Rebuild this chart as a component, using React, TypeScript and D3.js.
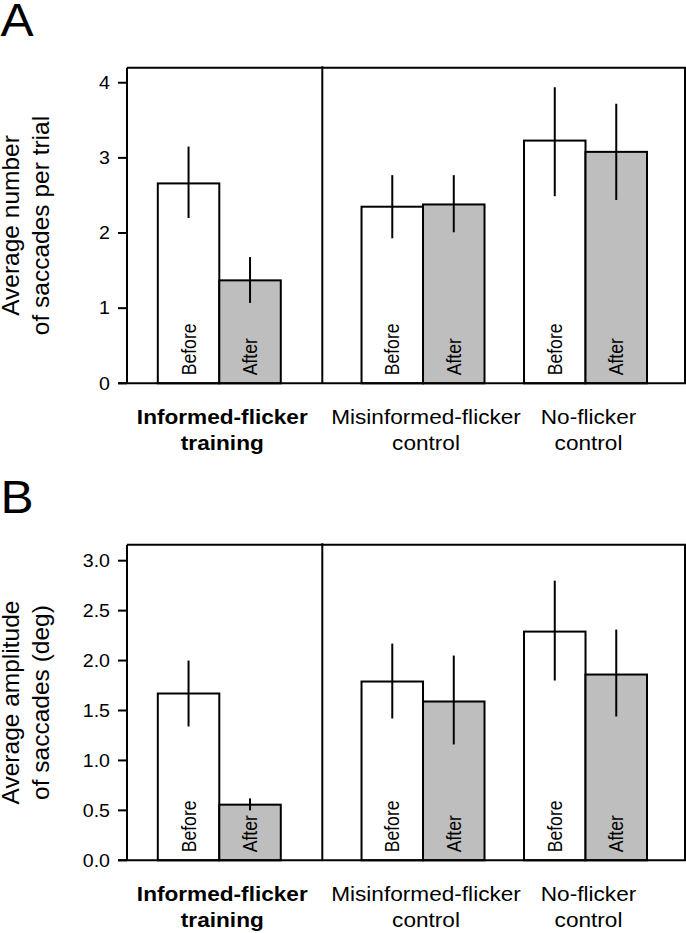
import React from "react";
import * as d3 from "d3";

// ---- data ----
const groupLines: string[][] = [
  ["Informed-flicker", "training"],
  ["Misinformed-flicker", "control"],
  ["No-flicker", "control"],
];
const groupBold = [true, false, false];
const conditionLabels = ["Before", "After"];

// Panel A: average number of saccades per trial
const countBefore = [2.66, 2.35, 3.23];
const countBeforeLo = [2.2, 1.93, 2.49];
const countBeforeHi = [3.15, 2.77, 3.94];
const countAfter = [1.37, 2.38, 3.08];
const countAfterLo = [1.07, 2.01, 2.44];
const countAfterHi = [1.68, 2.77, 3.72];
const countTicks = [0, 1, 2, 3, 4];

// Panel B: average amplitude of saccades (deg)
const ampBefore = [1.67, 1.79, 2.29];
const ampBeforeLo = [1.34, 1.42, 1.8];
const ampBeforeHi = [2.0, 2.17, 2.8];
const ampAfter = [0.557, 1.59, 1.86];
const ampAfterLo = [0.5, 1.16, 1.44];
const ampAfterHi = [0.62, 2.05, 2.31];
const ampTicks = [0, 0.5, 1, 1.5, 2, 2.5, 3];

// ---- layout ----
const W = 686;
const H = 933;
const FONT = "'Liberation Sans', Arial, Helvetica, sans-serif";
const frameLeft = 127;
const frameRight = 685;
const plotH = 315.6;
const groupCenter = [0.1654, 0.5305, 0.8217];
const dividerPos = 0.35;
const barWidth = 0.1102;
const grayFill = "#bebebe";
const SX = 1.12; // horizontal stretch of the original typesetting

type PanelProps = {
  top: number;
  letter: string;
  yMax: number;
  ticks: number[];
  tickFmt: (v: number) => string;
  titleLines: string[];
  before: number[];
  beforeLo: number[];
  beforeHi: number[];
  after: number[];
  afterLo: number[];
  afterHi: number[];
};

function Panel(p: PanelProps) {
  const bottom = p.top + plotH;
  const x = d3.scaleLinear().domain([0, 1]).range([frameLeft, frameRight]);
  const y = d3.scaleLinear().domain([0, p.yMax]).range([bottom, p.top]);
  const bw = x(barWidth) - x(0);
  const series = [
    { vals: p.before, lo: p.beforeLo, hi: p.beforeHi, fill: "#ffffff", off: -1 },
    { vals: p.after, lo: p.afterLo, hi: p.afterHi, fill: grayFill, off: 0 },
  ];
  const titleCy = (p.top + bottom) / 2;
  return (
    <g>
      <text
        transform={`translate(0.5,${p.top - 31.5}) scale(1.08,1)`}
        fontSize={46}
        fontFamily={FONT}
        fill="#000"
      >
        {p.letter}
      </text>
      {/* y title */}
      {p.titleLines.map((t, i) => (
        <text
          key={t}
          transform={`translate(${19 + i * 29.5},${titleCy}) rotate(-90)`}
          textAnchor="middle"
          fontSize={24.5}
          fontFamily={FONT}
          fill="#000"
        >
          {t}
        </text>
      ))}
      {/* bars */}
      {series.map((s, si) =>
        s.vals.map((v, gi) => {
          const x0 = x(groupCenter[gi]) + s.off * bw;
          return (
            <rect
              key={`b${si}-${gi}`}
              x={x0}
              y={y(v)}
              width={bw}
              height={y(0) - y(v)}
              fill={s.fill}
              stroke="#000"
              strokeWidth={2}
            />
          );
        })
      )}
      {/* condition labels */}
      {series.map((s, si) =>
        s.vals.map((v, gi) => {
          const cx = x(groupCenter[gi]) + s.off * bw + bw / 2;
          return (
            <text
              key={`l${si}-${gi}`}
              transform={`translate(${cx + 7},${bottom - 8}) scale(${SX},1) rotate(-90)`}
              fontSize={17.6}
              fontFamily={FONT}
              fill="#000"
            >
              {conditionLabels[si]}
            </text>
          );
        })
      )}
      {/* error bars */}
      {series.map((s, si) =>
        s.vals.map((v, gi) => {
          const cx = x(groupCenter[gi]) + s.off * bw + bw / 2;
          return (
            <line
              key={`e${si}-${gi}`}
              x1={cx}
              x2={cx}
              y1={y(s.lo[gi])}
              y2={y(s.hi[gi])}
              stroke="#000"
              strokeWidth={2}
            />
          );
        })
      )}
      {/* frame */}
      <line x1={frameLeft} x2={frameRight + 1} y1={p.top} y2={p.top} stroke="#000" strokeWidth={2} />
      <line x1={frameLeft} x2={frameLeft} y1={p.top} y2={bottom} stroke="#000" strokeWidth={2} />
      <line x1={frameRight} x2={frameRight} y1={p.top} y2={bottom} stroke="#000" strokeWidth={2} />
      <line x1={frameLeft - 9} x2={frameRight + 1} y1={bottom} y2={bottom} stroke="#000" strokeWidth={2} />
      <line
        x1={x(dividerPos)}
        x2={x(dividerPos)}
        y1={p.top - 1.5}
        y2={bottom}
        stroke="#000"
        strokeWidth={2}
      />
      {/* ticks */}
      {p.ticks.map((t) => (
        <g key={`t${t}`}>
          <line x1={frameLeft - 9} x2={frameLeft} y1={y(t)} y2={y(t)} stroke="#000" strokeWidth={2} />
          <text
            transform={`translate(${frameLeft - 17},${y(t)}) scale(${SX},1)`}
            dy="0.36em"
            textAnchor="end"
            fontSize={17.5}
            fontFamily={FONT}
            fill="#000"
          >
            {p.tickFmt(t)}
          </text>
        </g>
      ))}
      {/* group labels */}
      {groupLines.map((lines, gi) =>
        lines.map((ln, li) => (
          <text
            key={`g${gi}-${li}`}
            transform={`translate(${x(groupCenter[gi]) + 3},${bottom + 41 + li * 26}) scale(${SX},1)`}
            textAnchor="middle"
            fontSize={20.2}
            fontWeight={groupBold[gi] ? "bold" : "normal"}
            fontFamily={FONT}
            fill="#000"
          >
            {ln}
          </text>
        ))
      )}
    </g>
  );
}

export default function App() {
  return (
    <svg
      width={W}
      height={H}
      viewBox={`0 0 ${W} ${H}`}
      style={{ position: "absolute", left: 0, top: 0, background: "#fff" }}
    >
      <rect x={0} y={0} width={W} height={H} fill="#fff" />
      <Panel
        top={67.7}
        letter="A"
        yMax={4.2}
        ticks={countTicks}
        tickFmt={(v) => d3.format("d")(v)}
        titleLines={["Average number", "of saccades per trial"]}
        before={countBefore}
        beforeLo={countBeforeLo}
        beforeHi={countBeforeHi}
        after={countAfter}
        afterLo={countAfterLo}
        afterHi={countAfterHi}
      />
      <Panel
        top={544.7}
        letter="B"
        yMax={3.16}
        ticks={ampTicks}
        tickFmt={(v) => d3.format(".1f")(v)}
        titleLines={["Average amplitude", "of saccades (deg)"]}
        before={ampBefore}
        beforeLo={ampBeforeLo}
        beforeHi={ampBeforeHi}
        after={ampAfter}
        afterLo={ampAfterLo}
        afterHi={ampAfterHi}
      />
    </svg>
  );
}
